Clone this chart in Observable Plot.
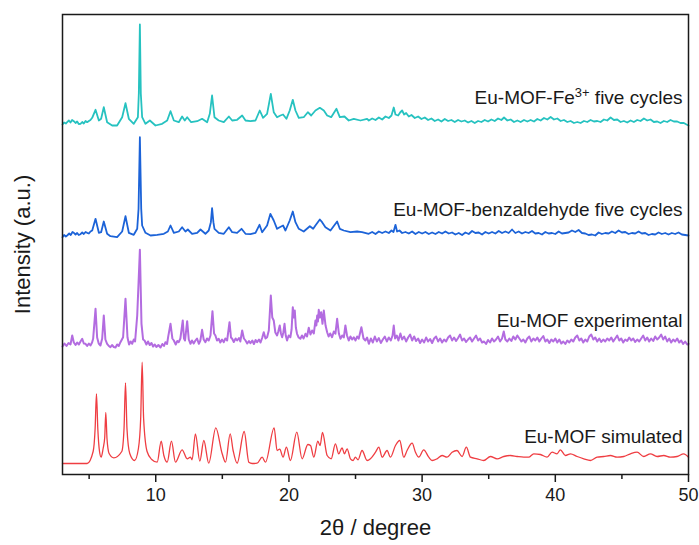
<!DOCTYPE html>
<html>
<head>
<meta charset="utf-8">
<script src="https://cdn.jsdelivr.net/npm/d3@7"></script>
<script src="https://cdn.jsdelivr.net/npm/@observablehq/plot@0.6"></script>
<style>
  html, body { margin: 0; padding: 0; background: #fff; }
  #chart { width: 699px; height: 545px; }
</style>
</head>
<body>
<div id="chart"></div>
<script>
// XRD patterns: [2θ (degree), intensity above the trace's own baseline (a.u.)]
const simulated = [
  [3.0,0],[4.85,0],[5.30,12],[5.45,35],[5.55,69.7],[5.65,35],[5.78,12],[5.90,6.3],[6.05,15],[6.17,26],[6.25,51],[6.34,25],[6.5,10],[6.85,5.7],
  [7.45,12],[7.62,35],[7.73,80.7],[7.84,35],[8.05,10],[8.41,3],[8.7,15],[8.87,45],[8.98,101.3],[9.09,45],[9.35,12],[9.7,4],[10.11,1.3],
  [10.41,22.3],[10.61,8],[10.86,1.3],[11.18,22.3],[11.48,1.3],[11.98,13.7],[12.36,4.7],[12.61,6.3],[12.73,3.7],[12.98,29.7],[13.31,2.3],
  [13.61,23],[13.98,0.3],[14.51,35.7],[14.99,9.7],[15.24,1.3],[15.59,29.7],[15.81,13],[16.11,0.3],[16.64,32],[16.99,1.3],[17.24,0],
  [17.61,0.3],[17.99,6.3],[18.24,1.3],[18.89,35.7],[19.11,13],[19.31,14.3],[19.56,6.3],[19.81,16.3],[20.11,3],[20.59,31.3],[20.99,4.7],
  [21.42,19],[21.62,18],[21.87,6.3],[22.17,22.3],[22.34,18],[22.52,31],[22.87,8],[23.17,4.7],[23.49,19.7],[23.74,9.7],[23.99,15.7],
  [24.17,9.7],[24.37,14.7],[24.62,4.7],[24.82,3],[24.99,6.3],[25.19,3.7],[25.49,13],[25.87,3],[26.12,4.7],[26.50,11.3],[26.75,16.3],
  [27.0,6.3],[27.37,13],[27.62,6.3],[28.0,18],[28.32,23],[28.62,6.3],[28.87,13],[29.25,20.3],[29.5,11.3],[29.75,6.3],[30.12,13.7],
  [30.5,6.3],[30.75,3],[31.12,4.7],[31.5,8],[31.87,6.3],[32.25,11.3],[32.62,13],[33.0,7],[33.32,16.3],[33.63,6.3],[34.13,4.7],[34.63,3],
  [35.13,7],[35.63,4.7],[36.13,7],[36.63,8],[37.13,7],[37.63,6.3],[38.0,6.3],[38.38,9.7],[38.88,9],[39.38,6.3],[39.76,11.3],[40.13,9.7],
  [40.38,13.7],[40.76,8],[41.14,9.7],[41.64,7],[42.14,4.7],[42.64,3],[43.14,6.3],[43.64,7],[44.14,8],[44.64,6.3],[45.14,7],[45.64,9.7],
  [46.14,11.3],[46.64,7],[47.14,9.7],[47.64,7],[48.14,8],[48.64,6.3],[49.14,7],[49.64,9.7],[50.0,6.3]
];

const experimental = [
  [3.0,1],[3.15,4],[3.3,1.5],[3.45,4.5],[3.6,3],[3.73,12],[3.85,5],[3.98,2.5],[4.1,5],[4.23,3],[4.35,6],[4.48,8.7],[4.6,4],[4.73,3.7],
  [4.85,1.5],[4.98,4],[5.10,2],[5.22,5],[5.30,8.7],[5.48,38.7],[5.6,10],[5.72,4],[5.85,2],[5.98,9],[6.10,32],[6.22,8],[6.35,3.7],[6.48,1.5],
  [6.60,0.3],[6.72,2.5],[6.85,0.5],[6.98,0],[7.1,3],[7.22,1.5],[7.35,5.3],[7.55,10.3],[7.73,48.7],[7.88,10],[8.0,3],[8.12,6],[8.23,3.7],
  [8.35,8],[8.45,6],[8.61,32],[8.81,97.7],[8.93,23.7],[9.05,8],[9.16,7],[9.3,3],[9.42,6],[9.55,2.5],[9.68,4.5],[9.8,1],[9.93,3],[10.05,0.5],
  [10.2,2.5],[10.36,0],[10.5,3.5],[10.62,1.5],[10.73,5.3],[10.85,3.5],[10.93,10.3],[11.11,23.7],[11.25,9],[11.36,7],[11.5,3],[11.62,6.5],
  [11.73,5.3],[11.85,9],[12.03,27],[12.12,9],[12.2,7],[12.36,26.3],[12.48,8],[12.61,3.7],[12.72,7],[12.85,4],[12.98,7],[13.1,9],[13.24,3.7],
  [13.35,7],[13.48,17.7],[13.6,8],[13.73,5.3],[13.85,9],[13.98,7],[14.11,12],[14.26,36.3],[14.38,14],[14.48,12],[14.6,7],[14.73,8.7],
  [14.85,5],[14.98,8],[15.11,5.3],[15.22,9],[15.36,7],[15.54,25.3],[15.65,10],[15.74,8.7],[15.86,5.5],[16.0,9],[16.11,7],[16.25,9.5],
  [16.35,6],[16.49,17],[16.62,9],[16.74,7],[16.87,4],[17.0,6.5],[17.11,4.3],[17.25,7],[17.37,3.5],[17.5,7.5],[17.61,5.3],[17.75,8],
  [17.87,5],[18.0,10],[18.11,15.3],[18.24,9],[18.36,10.3],[18.49,17],[18.64,52],[18.75,30],[18.86,27],[18.98,15],[19.11,12],[19.2,16],
  [19.31,22],[19.4,14],[19.49,10.3],[19.58,15],[19.67,23.7],[19.76,12],[19.86,7],[19.98,12],[20.11,10.3],[20.2,18],[20.29,40.3],[20.36,30],
  [20.44,37],[20.52,20],[20.61,13.7],[20.73,10],[20.86,8.7],[20.98,12],[21.1,9],[21.24,13.7],[21.36,11],[21.49,19.7],[21.62,13],[21.74,17],
  [21.87,14],[21.99,27],[22.06,22],[22.12,32],[22.18,26],[22.24,37.7],[22.33,30],[22.42,35.3],[22.52,23.7],[22.62,37],[22.75,22],[22.87,15.3],
  [22.98,11],[23.1,14],[23.24,10.3],[23.37,16],[23.49,13.7],[23.62,28.7],[23.75,14],[23.87,8.7],[24.0,12],[24.12,10],[24.24,22],[24.36,12],
  [24.49,7],[24.62,11],[24.75,8],[24.87,10.3],[25.0,7],[25.12,11],[25.24,8.7],[25.44,20.3],[25.6,9],[25.74,7],[25.87,10],[26.0,3.7],
  [26.15,9],[26.3,5],[26.45,11],[26.6,6],[26.75,9.5],[26.9,4.5],[27.05,8],[27.2,11],[27.35,6],[27.5,10],[27.65,7],[27.78,12],[27.87,22],
  [27.97,9],[28.1,12],[28.22,7],[28.37,14],[28.5,8],[28.65,11],[28.8,6],[28.95,10],[29.1,13],[29.25,7],[29.4,11],[29.55,6.5],[29.7,9],
  [29.85,4.5],[30.0,8],[30.15,5],[30.3,10],[30.45,6],[30.6,8.5],[30.75,4.5],[30.9,9],[31.05,11],[31.2,6],[31.35,9],[31.5,5],[31.65,8],
  [31.8,6],[31.95,10],[32.1,12],[32.25,7],[32.4,10],[32.55,6.5],[32.7,9.5],[32.85,13],[33.0,7],[33.15,9],[33.3,5.5],[33.45,8],[33.6,10],
  [33.75,6],[33.9,9],[34.05,12],[34.2,7],[34.35,9],[34.5,5],[34.65,6],[34.8,3.5],[34.95,7.5],[35.1,5],[35.25,9],[35.4,6],[35.55,8],
  [35.7,11],[35.85,6],[36.0,9],[36.13,16],[36.25,8],[36.4,6],[36.55,9],[36.7,6.5],[36.85,11],[37.0,8],[37.15,12],[37.3,9],[37.45,6],
  [37.6,8],[37.75,5],[37.9,9],[38.05,11],[38.2,6],[38.35,9],[38.5,7],[38.65,10],[38.8,6],[38.95,9],[39.1,11.5],[39.25,6],[39.4,8],
  [39.55,4.5],[39.7,8],[39.85,6],[40.0,9],[40.15,5],[40.3,8],[40.45,4],[40.6,6],[40.75,3.5],[40.9,7],[41.05,5],[41.2,8],[41.35,6],
  [41.5,10],[41.65,12],[41.8,7],[41.95,9],[42.1,5],[42.25,8],[42.4,6],[42.55,11],[42.7,13],[42.85,8],[43.0,10],[43.15,6],[43.3,9],
  [43.45,5.5],[43.6,8],[43.75,6],[43.9,9],[44.05,7],[44.2,10],[44.35,6],[44.5,9],[44.65,12],[44.8,7],[44.95,9],[45.1,5],[45.25,8],
  [45.4,6.5],[45.55,10],[45.7,7],[45.85,9],[46.0,5.5],[46.15,8],[46.3,6],[46.45,9],[46.6,12],[46.75,7],[46.9,10],[47.05,6],[47.2,9],
  [47.35,6.5],[47.5,11],[47.65,8],[47.8,10],[47.95,13],[48.1,8],[48.25,11],[48.4,6],[48.55,9],[48.7,5],[48.85,8],[49.0,6],[49.15,9],
  [49.3,5],[49.45,7],[49.6,3.5],[49.75,6],[49.9,3],[50.0,3.7]
];

const benzaldehyde = [
  [3.0,-0.7],[3.12,1.5],[3.25,0],[3.35,1],[3.5,3],[3.62,1.5],[3.75,4.5],[3.85,3.7],[3.98,2],[4.1,3.5],[4.22,1.5],[4.35,2.3],[4.48,4],
  [4.6,2.5],[4.73,4.5],[4.85,3.7],[4.98,3],[5.1,5],[5.23,6],[5.48,17.7],[5.73,3.7],[5.90,4.3],[6.10,15],[6.35,2.7],[6.60,0.3],
  [7.10,-0.7],[7.48,5],[7.73,20.3],[7.98,3.7],[8.35,1.7],[8.61,7.7],[8.71,27.7],[8.81,99.3],[8.91,27.7],[8.98,11],[9.23,3.7],[9.61,1],
  [10.11,1.7],[10.61,2.7],[10.91,5],[11.11,11],[11.36,3.7],[11.73,5],[11.98,9.3],[12.23,5],[12.41,7],[12.73,2.7],[13.11,3.7],[13.36,7],
  [13.73,2.7],[13.98,6],[14.14,14.3],[14.23,28.3],[14.33,14.3],[14.41,7.7],[14.73,3.7],[15.11,2.7],[15.49,9.3],[15.74,4.3],[16.11,3.7],
  [16.44,7.7],[16.74,2.7],[17.11,2.3],[17.49,3.7],[17.79,11.7],[17.99,4.3],[18.36,11],[18.61,22.7],[18.86,16],[19.11,7.7],[19.31,9.3],
  [19.56,11],[19.74,6],[20.06,16],[20.29,25],[20.49,14.3],[20.74,7.7],[21.11,5],[21.57,10.3],[21.82,7.7],[21.99,11],[22.32,17],[22.49,14.3],
  [22.74,9.3],[23.12,6],[23.62,15],[23.82,7.7],[24.12,6],[24.62,4.3],[25.12,5],[25.49,4.3],[25.99,2.7],
  [26.25,4.5],[26.5,2.5],[26.75,5],[27.0,3.5],[27.25,5],[27.5,3.5],[27.7,6],[27.85,4.5],[28.0,11.7],[28.12,5],[28.3,6],[28.5,3.5],
  [28.75,4.5],[29.0,3],[29.25,5],[29.5,2.5],[29.75,4.5],[30.0,3],[30.25,4.5],[30.5,2.5],[30.75,4],[31.0,2.5],[31.25,4.5],[31.5,3],
  [31.75,5],[32.0,3],[32.25,4],[32.5,2],[32.75,3.5],[33.0,1.5],[33.25,4],[33.5,2.5],[33.75,5.5],[34.0,3.5],[34.25,4],[34.5,2],[34.75,4.5],
  [35.0,3],[35.25,4.5],[35.5,3],[35.75,5.5],[36.0,3.5],[36.25,5],[36.5,3.5],[36.75,7],[37.0,3.5],[37.25,5],[37.5,3],[37.75,4.5],[38.0,3.5],
  [38.25,5.5],[38.5,3],[38.75,3.5],[39.0,2],[39.25,4.5],[39.5,3],[39.75,3.5],[40.0,2.5],[40.25,5],[40.5,3],[40.75,3.5],[41.0,4],[41.25,6],
  [41.5,4.5],[41.75,6.5],[42.0,3.5],[42.25,3],[42.5,1.5],[42.75,2],[43.0,1],[43.25,4],[43.5,2.5],[43.75,3.5],[44.0,3],[44.25,5],[44.5,3.5],
  [44.75,6],[45.0,4],[45.25,4.5],[45.5,2.5],[45.75,3.5],[46.0,3],[46.25,5],[46.5,3],[46.75,3.5],[47.0,1.5],[47.25,2.5],[47.5,2],[47.75,4],
  [48.0,2.5],[48.25,3.5],[48.5,2],[48.75,3.5],[49.0,2.5],[49.25,4],[49.5,2],[49.75,1.5],[50.0,1]
];

const feCycled = [
  [3.0,0],[3.12,2],[3.25,1],[3.35,2.3],[3.48,4],[3.6,2],[3.72,4.5],[3.85,3.3],[3.98,1.5],[4.1,3],[4.22,0.5],[4.35,0.7],[4.48,2.5],
  [4.6,1],[4.73,3.5],[4.85,2.3],[4.98,3.5],[5.1,4.5],[5.23,6.7],[5.48,14.7],[5.73,4],[5.90,5.7],[6.10,17.3],[6.35,2.3],[6.73,-1],
  [7.10,-1],[7.48,7.3],[7.73,21.3],[7.98,5.7],[8.35,0.7],[8.66,7.3],[8.73,30.7],[8.81,100],[8.88,30.7],[8.98,7.3],[9.23,0.7],[9.56,4],
  [9.98,-1],[10.48,0.7],[10.86,4],[11.11,13.3],[11.36,4],[11.73,2.3],[11.98,8],[12.18,4],[12.36,7.3],[12.66,2.3],[13.11,3.3],[13.48,5.7],
  [13.86,2.3],[14.06,10.7],[14.23,29],[14.41,7.3],[14.73,4],[15.11,2.3],[15.49,8],[15.74,4],[16.11,4.7],[16.49,9],[16.74,4],[17.11,3.3],
  [17.49,4],[17.81,14],[18.06,6.7],[18.36,10.7],[18.64,30.7],[18.86,12.3],[19.11,7.3],[19.36,9],[19.56,10],[19.81,5.7],[20.06,14],
  [20.29,24.7],[20.49,14],[20.74,6.7],[21.11,7.3],[21.42,12.3],[21.67,9],[21.99,14],[22.32,16.7],[22.62,14],[22.87,9],[23.17,7.3],
  [23.57,15.7],[23.82,7.3],[24.17,8],[24.49,4],[24.87,5.7],[25.37,4],[25.87,5.7],
  [26.0,4],[26.25,6],[26.5,4.5],[26.75,7],[27.0,5],[27.25,8],[27.5,6.5],[27.7,9],[27.87,17],[28.0,10],[28.2,9],[28.35,12],[28.5,14],
  [28.65,10],[28.8,11.5],[29.0,8],[29.2,9.5],[29.45,6.5],[29.7,8],[29.95,5.5],[30.2,7],[30.45,4.5],[30.7,6],[30.95,3.5],[31.2,5],[31.45,3],
  [31.7,5.5],[31.95,3.5],[32.2,4.5],[32.45,2.5],[32.7,4.5],[32.95,3],[33.2,4],[33.45,2],[33.7,3.5],[33.95,1.5],[34.2,3.5],[34.45,2.5],
  [34.7,4.5],[34.95,3],[35.2,5],[35.45,3.5],[35.7,6],[35.95,4.5],[36.15,7],[36.4,4],[36.65,5],[36.9,2.5],[37.15,4],[37.4,2.5],[37.65,4.5],
  [37.9,3],[38.15,4.5],[38.4,3],[38.65,5.5],[38.9,4],[39.15,6.5],[39.4,5],[39.65,7.5],[39.9,5],[40.15,6],[40.4,3.5],[40.65,4.5],[40.9,2.5],
  [41.15,3.5],[41.4,1.5],[41.65,2.5],[41.9,1.5],[42.15,3.5],[42.4,2.5],[42.65,4.5],[42.9,3],[43.15,3.5],[43.4,2.5],[43.65,5],[43.9,4],
  [44.15,7],[44.4,4.5],[44.65,5],[44.9,2.5],[45.15,3.5],[45.4,2],[45.65,4],[45.9,2.5],[46.15,4.5],[46.4,3.5],[46.65,6],[46.9,4],[47.15,5],
  [47.4,2.5],[47.65,3],[47.9,1.5],[48.15,3.5],[48.4,2.5],[48.65,4.5],[48.9,3],[49.15,3],[49.4,1.5],[49.65,1.5],[49.85,0],[50.0,-1]
];

// Series, bottom to top, with the vertical offset used to stack them
const seriesNames = ["Eu-MOF simulated", "Eu-MOF experimental", "Eu-MOF-benzaldehyde five cycles", "Eu-MOF-Fe3+ five cycles"];
const seriesData = [simulated, experimental, benzaldehyde, feCycled];
const offsets = [11, 127, 238, 350];
const colors = ["#ef3d42", "#b36ce0", "#1c63d8", "#26c2c0"];
const widths = [1.3, 2, 1.8, 1.8];
const curves = ["monotone-x", "linear", "linear", "linear"];

const xTicks = [10, 20, 30, 40, 50];
const xMinorTicks = [5, 15, 25, 35, 45];

const rows = seriesData.flatMap((d, i) =>
  d.map(([t, v]) => ({series: seriesNames[i], theta: t, intensity: v + offsets[i]}))
);
const labelRows = seriesNames.map((name, i) => ({name, y: offsets[i] + 27}));

const chart = Plot.plot({
  width: 699,
  height: 545,
  marginLeft: 62,
  marginRight: 11,
  marginTop: 14,
  marginBottom: 71,
  style: {fontFamily: "'Liberation Sans', Arial, Helvetica, sans-serif", color: "#1a1a1a", background: "#fff"},
  x: {domain: [3, 50]},
  y: {domain: [0, 460], axis: null},
  marks: [
    ...seriesNames.map((name, i) =>
      Plot.line(rows.filter(r => r.series === name), {
        x: "theta", y: "intensity", stroke: colors[i], strokeWidth: widths[i],
        curve: curves[i], strokeLinejoin: "round"
      })
    ),
    Plot.frame({stroke: "#1a1a1a", strokeWidth: 1.5}),
    Plot.axisX({ticks: xTicks, tickSize: 8, tickPadding: 6, fontSize: 18, strokeWidth: 1.5, label: null}),
    Plot.axisX({ticks: xMinorTicks, tickSize: 5, strokeWidth: 1.5, tickFormat: () => "", label: null}),
    Plot.text(["2θ / degree"], {frameAnchor: "bottom", dy: 60, fontSize: 22, fill: "#1a1a1a"}),
    Plot.text(["Intensity (a.u.)"], {frameAnchor: "left", dx: -40, rotate: -90, textAnchor: "middle", fontSize: 22, fill: "#1a1a1a"}),
    Plot.text(labelRows, {y: "y", text: "name", frameAnchor: "right", dx: -6, textAnchor: "end", fontSize: 19, fill: "#1a1a1a"})
  ]
});

// Render the ion charge as a superscript
d3.select(chart).selectAll("text").each(function () {
  const el = d3.select(this);
  const s = this.textContent;
  if (s.includes("Fe3+") && this.childElementCount === 0) {
    el.text(null);
    el.append("tspan").text("Eu-MOF-Fe");
    el.append("tspan").attr("baseline-shift", "super").attr("font-size", "0.68em").text("3+");
    el.append("tspan").text(" five cycles");
  }
});

document.getElementById("chart").appendChild(chart);
</script>
</body>
</html>
